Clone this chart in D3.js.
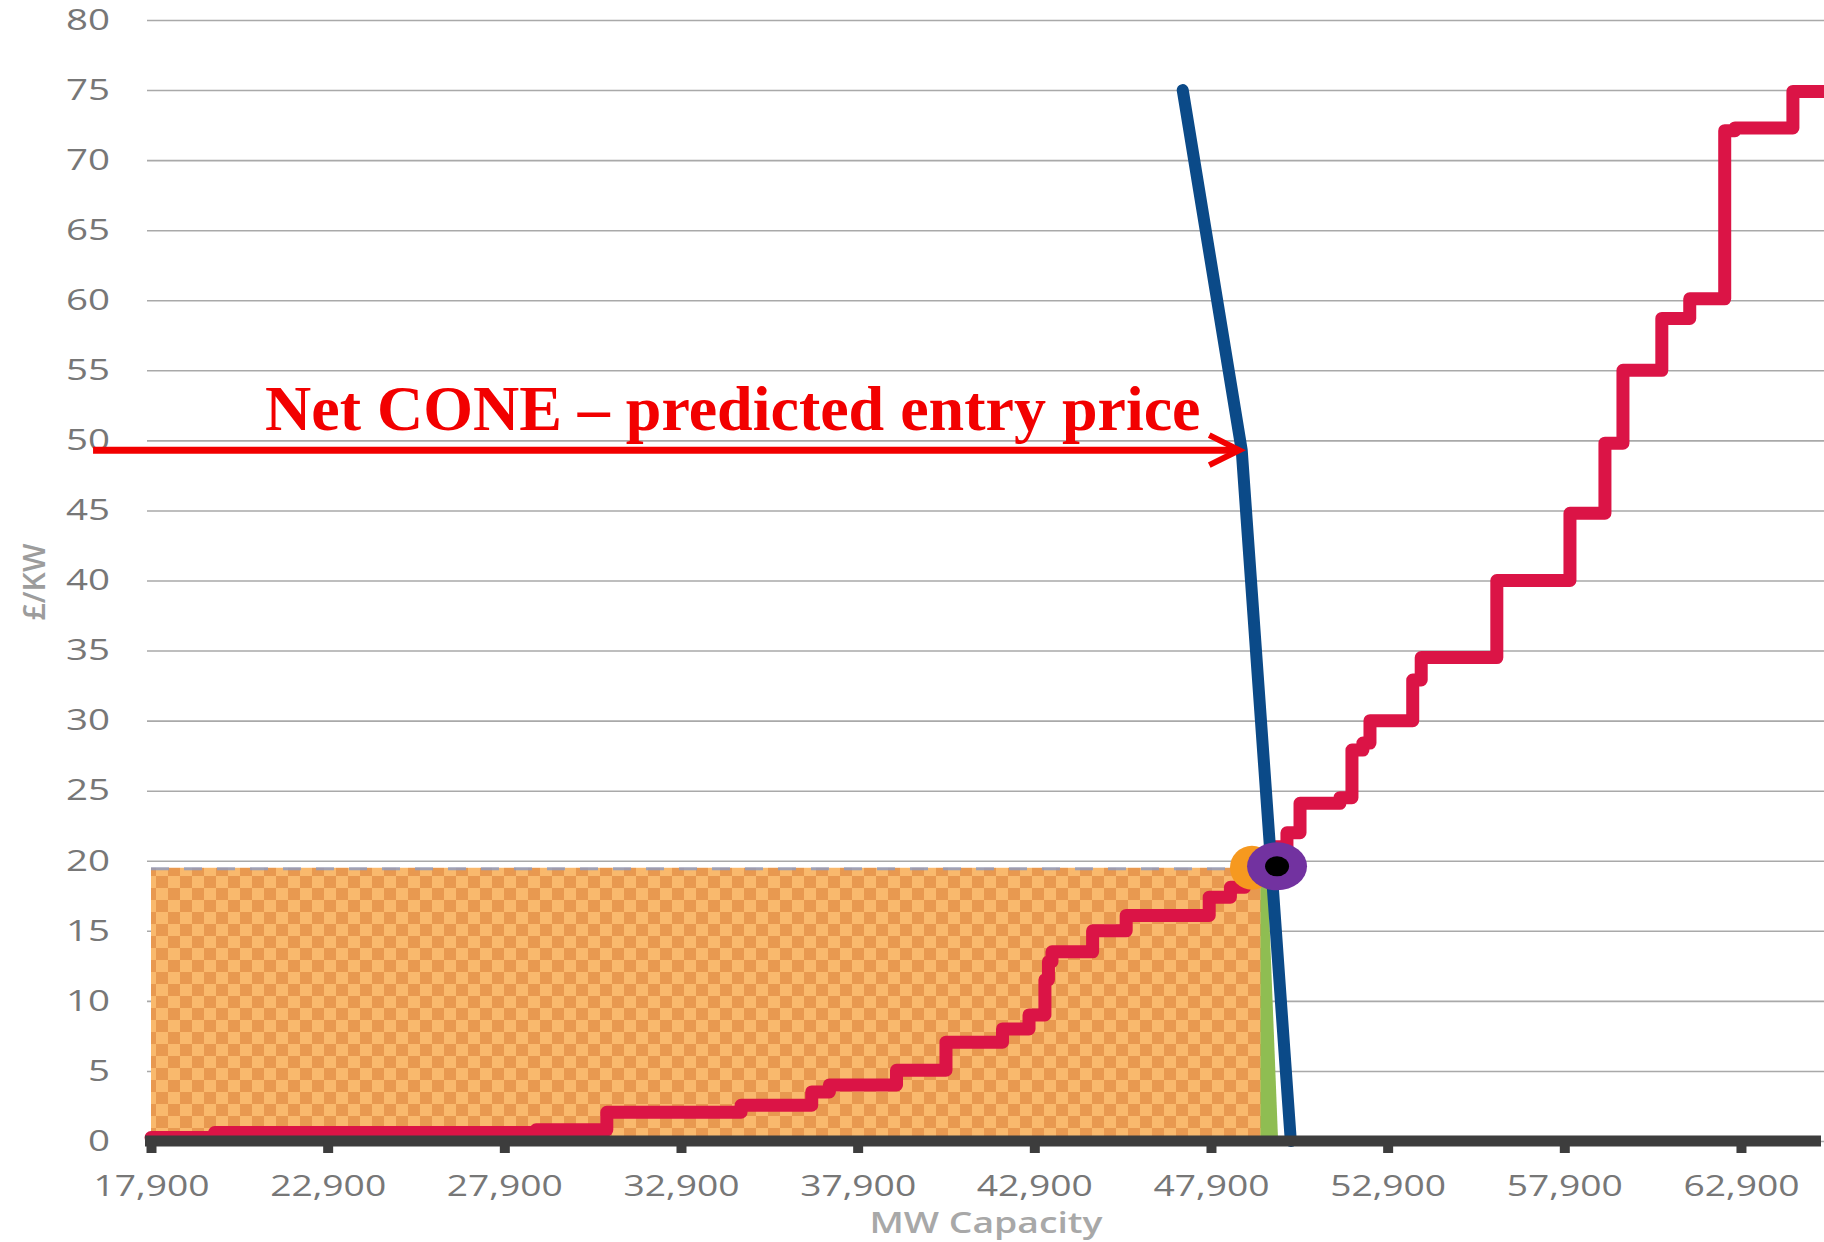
<!DOCTYPE html>
<html>
<head>
<meta charset="utf-8">
<script src="https://cdn.jsdelivr.net/npm/d3@7"></script>
<style>
  body { margin: 0; background: #fff; }
  svg { display: block; }
</style>
</head>
<body>
<div id="chart"></div>
<script>
// capacity (MW) and price (£/kW)
var mwTicks = [17900, 22900, 27900, 32900, 37900, 42900, 47900, 52900, 57900, 62900];
var priceTicks = [0, 5, 10, 15, 20, 25, 30, 35, 40, 45, 50, 55, 60, 65, 70, 75, 80];

// supply stack (step line)
var supplyMW = [17900, 19700, 28800, 30800, 34600, 36600, 37100, 39000, 40400, 42000, 42750, 43200, 43300, 43400,
                44550, 45500, 47850, 48450, 48850, 49300, 49700, 50050, 50420, 51550, 51890, 52200, 52400,
                53610, 53850, 55990, 58060, 59050, 59560, 60660, 61450, 62440, 62730, 64370, 65300];
var supplyPrice = [0.25, 0.6, 0.8, 2.05, 2.55, 3.5, 4.0, 5.05, 7.05, 8.0, 9.0, 11.5, 12.8, 13.5,
                   15.0, 16.1, 17.4, 18.1, 18.8, 19.5, 21.0, 22.0, 24.1, 24.5, 27.9, 28.4, 30.0,
                   32.9, 34.5, 40.0, 44.8, 49.8, 55.0, 58.7, 60.1, 72.1, 72.3, 74.9, 74.9];

// demand curve
var demandMW = [47100, 48770, 50160];
var demandPrice = [75, 49.3, 0];

// clearing area, green sliver and markers
var clearMW = [17900, 49340];
var clearPrice = 19.5;
var greenMW = [49300, 49300, 49500, 49800];
var greenPrice = [0, 19.2, 19.2, 0];
var orangeDot = [49060, 19.5];
var purpleDot = [49770, 19.6];

// annotation
var noteText = "Net CONE \u2013 predicted entry price";
var arrowMW = [16260, 48700];
var arrowPrice = 49.3;

function init() {
    var w = 1824, h = 1242;

    var svg = d3.select("#chart").append("svg")
                .attr("width", w)
                .attr("height", h);

    var x = d3.scaleLinear().domain([17900, 65250]).range([151, 1824]);
    var y = d3.scaleLinear().domain([0, 80]).range([1141, 20]);

    var defs = svg.append("defs");
    var pat = defs.append("pattern")
                  .attr("id", "checks")
                  .attr("width", 24).attr("height", 24)
                  .attr("patternUnits", "userSpaceOnUse");
    pat.append("rect").attr("width", 24).attr("height", 24).attr("fill", "#f9b96d");
    pat.append("rect").attr("width", 12).attr("height", 12).attr("fill", "#e89950");
    pat.append("rect").attr("x", 12).attr("y", 12).attr("width", 12).attr("height", 12).attr("fill", "#e89950");

    // gridlines + y labels
    var yAxis = svg.append("g")
                   .attr("transform", "translate(147,0)")
                   .call(d3.axisLeft(y).tickValues(priceTicks).tickSize(-(w - 147)).tickPadding(37));
    yAxis.select(".domain").remove();
    yAxis.selectAll(".tick line").attr("stroke", "#a9a9a9").attr("stroke-width", 1.6);
    yAxis.selectAll(".tick text")
         .attr("fill", "#777")
         .style("font-family", "'Open Sans', sans-serif")
         .style("font-size", "29px");
    var kY = 44 / yAxis.selectAll(".tick text").filter(function(d) { return d === 80; }).node().getComputedTextLength();
    yAxis.selectAll(".tick text")
         .attr("textLength", function() { return this.getComputedTextLength() * kY; })
         .attr("lengthAdjust", "spacingAndGlyphs");

    // orange clearing area
    svg.append("rect")
       .attr("x", x(clearMW[0]))
       .attr("y", y(clearPrice))
       .attr("width", x(clearMW[1]) - x(clearMW[0]))
       .attr("height", y(0) - y(clearPrice))
       .attr("fill", "url(#checks)");

    svg.append("line")
       .attr("x1", x(clearMW[0])).attr("x2", x(clearMW[1]))
       .attr("y1", y(clearPrice) + 1).attr("y2", y(clearPrice) + 1)
       .attr("stroke", "#8d9cc2")
       .attr("stroke-width", 3)
       .attr("stroke-dasharray", "18,15")
       .attr("opacity", 0.8);

    var green = greenMW.map(function(d, i) { return [x(d), y(greenPrice[i])]; });
    svg.append("path")
       .attr("d", "M" + green.join("L") + "Z")
       .attr("fill", "#8fbd52");

    // supply step line
    var supply = supplyMW.map(function(d, i) { return [d, supplyPrice[i]]; });
    svg.append("path")
       .datum(supply)
       .attr("d", d3.line().x(function(d) { return x(d[0]); }).y(function(d) { return y(d[1]); }).curve(d3.curveStepAfter))
       .attr("fill", "none")
       .attr("stroke", "#db1446")
       .attr("stroke-width", 13)
       .attr("stroke-linejoin", "round")
       .attr("stroke-linecap", "round");

    // demand line
    var demand = demandMW.map(function(d, i) { return [d, demandPrice[i]]; });
    svg.append("path")
       .datum(demand)
       .attr("d", d3.line().x(function(d) { return x(d[0]); }).y(function(d) { return y(d[1]); }))
       .attr("fill", "none")
       .attr("stroke", "#0b4a88")
       .attr("stroke-width", 12)
       .attr("stroke-linecap", "round")
       .attr("stroke-linejoin", "round");

    // x axis
    var xAxis = svg.append("g")
                   .attr("transform", "translate(0," + y(0) + ")")
                   .call(d3.axisBottom(x).tickValues(mwTicks).tickFormat(d3.format(",")).tickSizeInner(12).tickSizeOuter(0).tickPadding(22));
    xAxis.select(".domain").attr("stroke", "#3d3d3d").attr("stroke-width", 11)
         .attr("d", "M145,0H1821");
    xAxis.selectAll(".tick line").attr("stroke", "#3d3d3d").attr("stroke-width", 10);
    xAxis.selectAll(".tick text")
         .attr("fill", "#777")
         .style("font-family", "'Open Sans', sans-serif")
         .style("font-size", "30px");
    var kX = 116 / xAxis.select(".tick text").node().getComputedTextLength();
    xAxis.selectAll(".tick text")
         .attr("textLength", function() { return this.getComputedTextLength() * kX; })
         .attr("lengthAdjust", "spacingAndGlyphs");

    // markers
    svg.append("circle")
       .attr("cx", x(orangeDot[0])).attr("cy", y(orangeDot[1]))
       .attr("r", 22)
       .attr("fill", "#f6991f");
    svg.append("ellipse")
       .attr("cx", x(purpleDot[0])).attr("cy", y(purpleDot[1]))
       .attr("rx", 30).attr("ry", 24)
       .attr("fill", "#7232a0");
    svg.append("ellipse")
       .attr("cx", x(purpleDot[0])).attr("cy", y(purpleDot[1]))
       .attr("rx", 12).attr("ry", 10)
       .attr("fill", "#000");

    // axis titles
    svg.append("text")
       .attr("transform", "translate(45,582) rotate(-90)")
       .attr("text-anchor", "middle")
       .attr("fill", "#9c9c9c")
       .style("font-family", "'Open Sans', sans-serif")
       .style("font-size", "30px")
       .style("font-weight", 600)
       .attr("textLength", 77)
       .attr("lengthAdjust", "spacingAndGlyphs")
       .text("£/KW");

    svg.append("text")
       .attr("x", 986).attr("y", 1233)
       .attr("text-anchor", "middle")
       .attr("fill", "#a8a8a8")
       .style("font-family", "'Open Sans', sans-serif")
       .style("font-size", "28px")
       .style("font-weight", 600)
       .attr("textLength", 233)
       .attr("lengthAdjust", "spacingAndGlyphs")
       .text("MW Capacity");

    // annotation arrow
    var ay = y(arrowPrice), ax0 = x(arrowMW[0]), ax1 = x(arrowMW[1]);
    svg.append("line")
       .attr("x1", ax0).attr("x2", ax1 - 3)
       .attr("y1", ay).attr("y2", ay)
       .attr("stroke", "#f20000")
       .attr("stroke-width", 7);
    svg.append("path")
       .attr("d", "M" + (ax1 - 30) + "," + (ay - 15) + "L" + ax1 + "," + ay + "L" + (ax1 - 30) + "," + (ay + 15))
       .attr("fill", "none")
       .attr("stroke", "#f20000")
       .attr("stroke-width", 6);

    svg.append("text")
       .attr("x", 265).attr("y", 430)
       .attr("fill", "#f20000")
       .style("font-family", "'Liberation Serif', 'Times New Roman', serif")
       .style("font-weight", "bold")
       .style("font-size", "64px")
       .text(noteText);
}

window.onload = init;
</script>
</body>
</html>
